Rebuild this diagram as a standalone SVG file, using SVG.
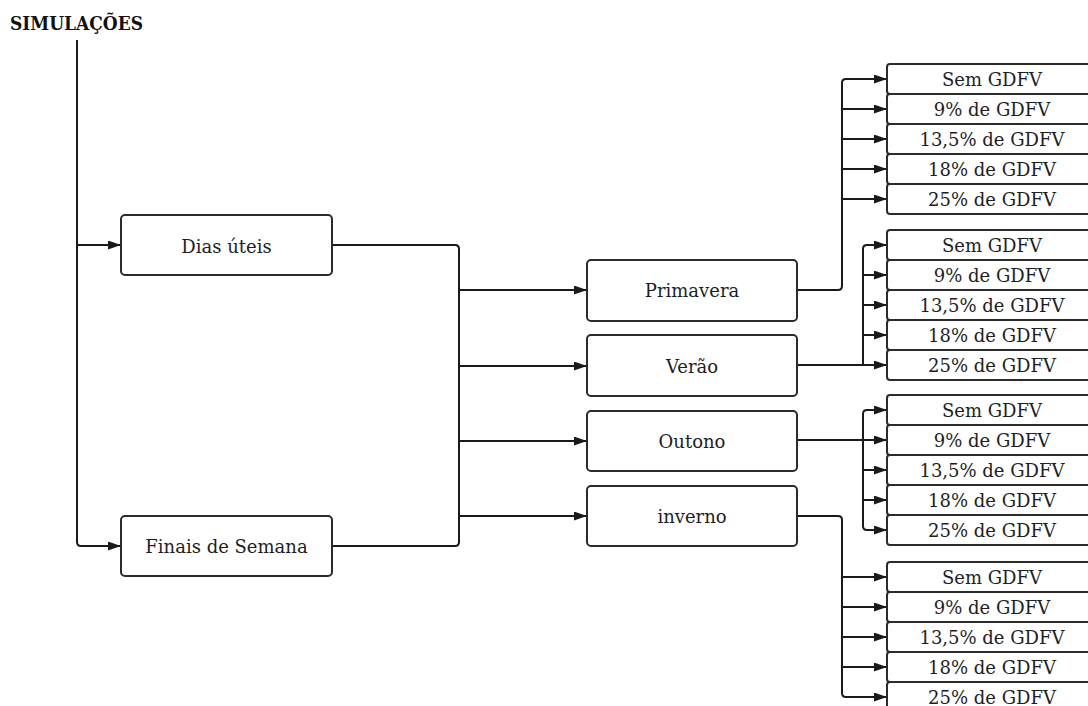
<svg xmlns="http://www.w3.org/2000/svg" width="1088" height="706" viewBox="0 0 1088 706">
  <style>
    .box { fill: #ffffff; stroke: #2b2b2b; stroke-width: 2; }
    .lbl { font-family: "DejaVu Serif", "Liberation Serif", serif; font-size: 18px; fill: #1e1e1e; text-anchor: middle; }
    .title { font-family: "DejaVu Serif", "Liberation Serif", serif; font-size: 19px; font-weight: bold; fill: #111111; }
    .wire { fill: none; stroke: #1a1a1a; stroke-width: 2; }
    .arr { marker-end: url(#head); }
  </style>
  <defs>
    <marker id="head" markerUnits="userSpaceOnUse" markerWidth="13" markerHeight="9" refX="13" refY="4.5" orient="auto">
      <path d="M0,0 L13,4.5 L0,9 z" fill="#1a1a1a"/>
    </marker>
  </defs>

  <rect width="1088" height="706" fill="#ffffff"/>

  <text class="title" x="10" y="30" textLength="133" lengthAdjust="spacingAndGlyphs">SIMULAÇÕES</text>

  <!-- connectors -->
  <g id="connectors">
    <!-- root trunk -->
    <path class="wire arr" d="M77,40 V542 Q77,546 81,546 H121"/>
    <path class="wire arr" d="M77,245 H121"/>
    <!-- day types into seasons bus -->
    <path class="wire" d="M332,245 H455 Q459,245 459,249 V542 Q459,546 455,546 H332"/>
    <path class="wire arr" d="M459,290 H587"/>
    <path class="wire arr" d="M459,366 H587"/>
    <path class="wire arr" d="M459,441 H587"/>
    <path class="wire arr" d="M459,516 H587"/>
    <!-- Primavera scenarios -->
    <path class="wire" d="M797,290 H838 Q842,290 842,286 V83 Q842,79 846,79 H887"/>
    <path class="wire arr" d="M846,79 H887"/>
    <path class="wire arr" d="M842,109 H887"/>
    <path class="wire arr" d="M842,139 H887"/>
    <path class="wire arr" d="M842,169 H887"/>
    <path class="wire arr" d="M842,199 H887"/>
    <!-- Verão scenarios -->
    <path class="wire arr" d="M797,365 H887"/>
    <path class="wire" d="M863,365 V249 Q863,245 867,245 H887"/>
    <path class="wire arr" d="M867,245 H887"/>
    <path class="wire arr" d="M863,275 H887"/>
    <path class="wire arr" d="M863,305 H887"/>
    <path class="wire arr" d="M863,335 H887"/>
    <!-- Outono scenarios -->
    <path class="wire arr" d="M797,440 H887"/>
    <path class="wire" d="M867,410 Q863,410 863,414 V526 Q863,530 867,530"/>
    <path class="wire arr" d="M867,410 H887"/>
    <path class="wire arr" d="M863,470 H887"/>
    <path class="wire arr" d="M863,500 H887"/>
    <path class="wire arr" d="M867,530 H887"/>
    <!-- inverno scenarios -->
    <path class="wire" d="M797,516 H838 Q842,516 842,520 V693 Q842,697 846,697"/>
    <path class="wire arr" d="M842,577 H887"/>
    <path class="wire arr" d="M842,607 H887"/>
    <path class="wire arr" d="M842,637 H887"/>
    <path class="wire arr" d="M842,667 H887"/>
    <path class="wire arr" d="M846,697 H887"/>
  </g>

  <!-- day types -->
  <g id="dias-uteis">
    <rect class="box" x="121" y="215" width="211" height="60" rx="4"/>
    <text class="lbl" x="226.5" y="253">Dias úteis</text>
  </g>
  <g id="finais-de-semana">
    <rect class="box" x="121" y="516" width="211" height="60" rx="4"/>
    <text class="lbl" x="226.5" y="553">Finais de Semana</text>
  </g>

  <!-- seasons -->
  <g id="primavera">
    <rect class="box" x="587" y="260" width="210" height="61" rx="4"/>
    <text class="lbl" x="692" y="297">Primavera</text>
  </g>
  <g id="verao">
    <rect class="box" x="587" y="335" width="210" height="61" rx="4"/>
    <text class="lbl" x="692" y="373">Verão</text>
  </g>
  <g id="outono">
    <rect class="box" x="587" y="411" width="210" height="60" rx="4"/>
    <text class="lbl" x="692" y="448">Outono</text>
  </g>
  <g id="inverno">
    <rect class="box" x="587" y="486" width="210" height="60" rx="4"/>
    <text class="lbl" x="692" y="523">inverno</text>
  </g>

  <!-- Primavera scenarios -->
  <g id="primavera-sem"><rect class="box" x="887" y="64" width="211" height="30" rx="3"/><text class="lbl" x="992" y="86">Sem GDFV</text></g>
  <g id="primavera-9"><rect class="box" x="887" y="94" width="211" height="30" rx="3"/><text class="lbl" x="992" y="116">9% de GDFV</text></g>
  <g id="primavera-13"><rect class="box" x="887" y="124" width="211" height="30" rx="3"/><text class="lbl" x="992" y="146">13,5% de GDFV</text></g>
  <g id="primavera-18"><rect class="box" x="887" y="154" width="211" height="30" rx="3"/><text class="lbl" x="992" y="176">18% de GDFV</text></g>
  <g id="primavera-25"><rect class="box" x="887" y="184" width="211" height="30" rx="3"/><text class="lbl" x="992" y="206">25% de GDFV</text></g>

  <!-- Verão scenarios -->
  <g id="verao-sem"><rect class="box" x="887" y="230" width="211" height="30" rx="3"/><text class="lbl" x="992" y="252">Sem GDFV</text></g>
  <g id="verao-9"><rect class="box" x="887" y="260" width="211" height="30" rx="3"/><text class="lbl" x="992" y="282">9% de GDFV</text></g>
  <g id="verao-13"><rect class="box" x="887" y="290" width="211" height="30" rx="3"/><text class="lbl" x="992" y="312">13,5% de GDFV</text></g>
  <g id="verao-18"><rect class="box" x="887" y="320" width="211" height="30" rx="3"/><text class="lbl" x="992" y="342">18% de GDFV</text></g>
  <g id="verao-25"><rect class="box" x="887" y="350" width="211" height="30" rx="3"/><text class="lbl" x="992" y="372">25% de GDFV</text></g>

  <!-- Outono scenarios -->
  <g id="outono-sem"><rect class="box" x="887" y="395" width="211" height="30" rx="3"/><text class="lbl" x="992" y="417">Sem GDFV</text></g>
  <g id="outono-9"><rect class="box" x="887" y="425" width="211" height="30" rx="3"/><text class="lbl" x="992" y="447">9% de GDFV</text></g>
  <g id="outono-13"><rect class="box" x="887" y="455" width="211" height="30" rx="3"/><text class="lbl" x="992" y="477">13,5% de GDFV</text></g>
  <g id="outono-18"><rect class="box" x="887" y="485" width="211" height="30" rx="3"/><text class="lbl" x="992" y="507">18% de GDFV</text></g>
  <g id="outono-25"><rect class="box" x="887" y="515" width="211" height="30" rx="3"/><text class="lbl" x="992" y="537">25% de GDFV</text></g>

  <!-- inverno scenarios -->
  <g id="inverno-sem"><rect class="box" x="887" y="562" width="211" height="30" rx="3"/><text class="lbl" x="992" y="584">Sem GDFV</text></g>
  <g id="inverno-9"><rect class="box" x="887" y="592" width="211" height="30" rx="3"/><text class="lbl" x="992" y="614">9% de GDFV</text></g>
  <g id="inverno-13"><rect class="box" x="887" y="622" width="211" height="30" rx="3"/><text class="lbl" x="992" y="644">13,5% de GDFV</text></g>
  <g id="inverno-18"><rect class="box" x="887" y="652" width="211" height="30" rx="3"/><text class="lbl" x="992" y="674">18% de GDFV</text></g>
  <g id="inverno-25"><rect class="box" x="887" y="682" width="211" height="30" rx="3"/><text class="lbl" x="992" y="704">25% de GDFV</text></g>
</svg>
